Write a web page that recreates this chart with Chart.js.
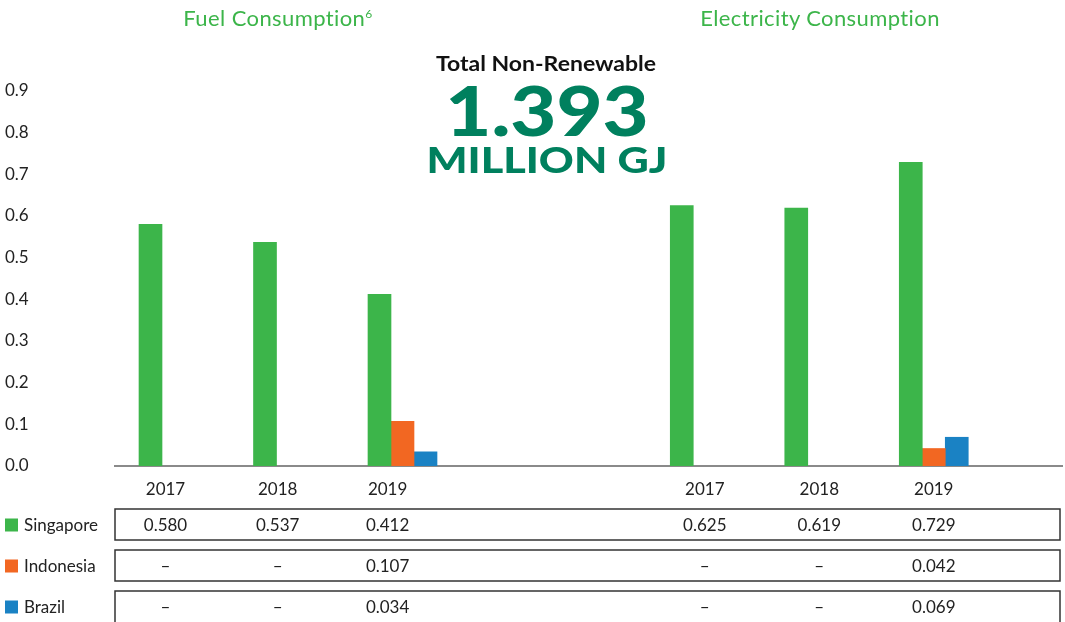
<!DOCTYPE html>
<html>
<head>
<meta charset="utf-8">
<script src="https://cdn.jsdelivr.net/npm/chart.js@4"></script>
<style>
  body { margin: 0; background: #fff; font-family: Lato, 'Noto Sans', sans-serif; }
  #wrap { position: relative; width: 1065px; height: 622px; }
  .head { position: absolute; text-align: center; white-space: nowrap; transform: translateX(-50%); }
  .panel { top: 4px; font-size: 22px; letter-spacing: 0.4px; color: #3cb54a; }
  .panel sup { font-size: 12px; vertical-align: 8px; }
  #total { left: 546px; top: 51px; font-size: 20px; font-weight: 700; color: #111; transform: translateX(-50%) scaleX(1.15); }
  #big { left: 547px; top: 76px; font-size: 68px; font-weight: 900; color: #00805e; line-height: 68px; transform: translateX(-50%) scaleX(1.17); }
  #unit { left: 547px; top: 139px; font-size: 36px; font-weight: 900; color: #00805e; line-height: 40px; transform: translateX(-50%) scaleX(1.2); }
</style>
</head>
<body>
<div id="wrap">
  <canvas id="myChart"></canvas>
  <div class="head panel" style="left:278px">Fuel Consumption<sup>6</sup></div>
  <div class="head panel" style="left:820px">Electricity Consumption</div>
  <div class="head" id="total">Total Non-Renewable</div>
  <div class="head" id="big">1.393</div>
  <div class="head" id="unit">MILLION GJ</div>
</div>
<script>
const years = ['2017', '2018', '2019'];

// million GJ
const fuelSingapore = [0.580, 0.537, 0.412];
const fuelIndonesia = [null, null, 0.107];
const fuelBrazil = [null, null, 0.034];

const elecSingapore = [0.625, 0.619, 0.729];
const elecIndonesia = [null, null, 0.042];
const elecBrazil = [null, null, 0.069];

const countries = ['Singapore', 'Indonesia', 'Brazil'];
const colors = ['#3cb54a', '#f26722', '#1a82c4'];

const FONT = "Lato, 'Noto Sans', sans-serif";
const panelOffset = 4.64; // where the electricity group starts on the x axis
const xPos = years.map((y, i) => i).concat(years.map((y, i) => i + panelOffset));
// the fuel columns of labels/table sit a bit left of their bars in the original
const labelPos = [-0.07, 0.91, 1.87].concat(years.map((y, i) => i + panelOffset));
const xLabels = years.concat(years);

function points(fuel, elec){
    return fuel.concat(elec).map((v, i) => ({ x: xPos[i], y: v }));
}

const seriesFuel = [fuelSingapore, fuelIndonesia, fuelBrazil];
const seriesElec = [elecSingapore, elecIndonesia, elecBrazil];

// data table under the axis, columns follow the x scale
const tablePlugin = {
    id: 'dataTable',
    afterDraw(chart){
        const ctx = chart.ctx;
        const xs = chart.scales.x;
        const area = chart.chartArea;
        const rowTops = [509, 550, 591];
        const rowH = 31;
        ctx.save();
        ctx.font = '17px ' + FONT;
        ctx.textBaseline = 'middle';
        countries.forEach((name, r) => {
            const top = rowTops[r];
            const mid = top + rowH / 2 + 1;
            ctx.fillStyle = colors[r];
            ctx.fillRect(5, mid - 7, 13, 13);
            ctx.fillStyle = '#222';
            ctx.textAlign = 'left';
            ctx.fillText(name, 24, mid);
            ctx.strokeStyle = '#333';
            ctx.lineWidth = 1.5;
            ctx.strokeRect(area.left, top, area.right - 2 - area.left, r == 2 ? 60 : rowH);
            ctx.textAlign = 'center';
            const vals = seriesFuel[r].concat(seriesElec[r]);
            vals.forEach((v, i) => {
                ctx.fillText(v == null ? '–' : v.toFixed(3), xs.getPixelForValue(labelPos[i]), mid);
            });
        });
        ctx.restore();
    }
};

new Chart(document.getElementById('myChart'), {
    type: 'bar',
    data: {
        datasets: countries.map((name, i) => ({
            label: name,
            backgroundColor: colors[i],
            data: points(seriesFuel[i], seriesElec[i]),
            barThickness: 23
        }))
    },
    options: {
        responsive: true,
        maintainAspectRatio: false,
        animation: false,
        layout: { padding: { top: 91, left: 5, right: 3, bottom: 116 } },
        plugins: {
            legend: { display: false },
            tooltip: { enabled: false }
        },
        scales: {
            x: {
                type: 'linear',
                offset: false,
                min: -0.511,
                max: 7.76,
                z: 1,
                grid: { display: false, offset: false },
                border: { display: true, color: '#8a8a8a', width: 2 },
                afterBuildTicks: scale => { scale.ticks = labelPos.map(v => ({ value: v })); },
                afterFit: scale => { scale.height = 40; },
                ticks: {
                    padding: 5,
                    autoSkip: false,
                    maxRotation: 0,
                    color: '#222',
                    font: { family: FONT, size: 17 },
                    callback: (v, i) => xLabels[i]
                }
            },
            y: {
                min: 0,
                max: 0.9,
                grid: { display: false },
                border: { display: false },
                afterFit: scale => { scale.width = 110; },
                ticks: {
                    stepSize: 0.1,
                    crossAlign: 'far',
                    color: '#222',
                    font: { family: FONT, size: 17 },
                    callback: v => v.toFixed(1)
                }
            }
        }
    },
    plugins: [tablePlugin]
});
</script>
</body>
</html>
